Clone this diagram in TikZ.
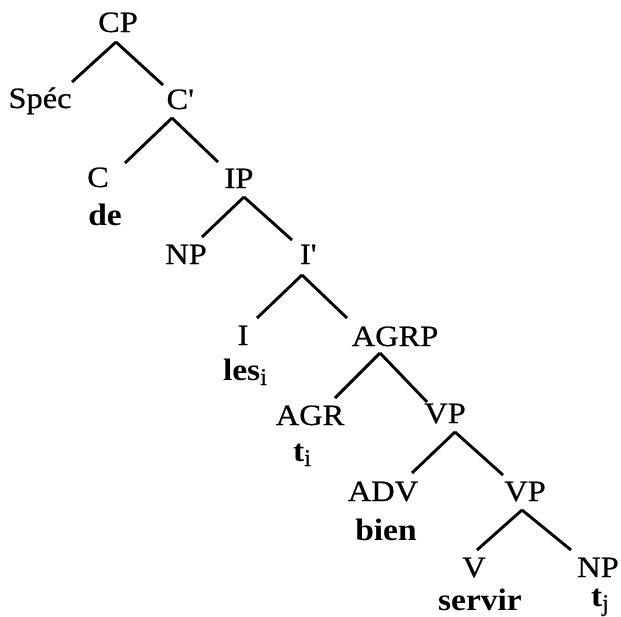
\documentclass[tikz,border=0pt]{standalone}
\usepackage{fontspec}
\setmainfont{Liberation Serif}
\newfontfamily\catfont[FakeStretch=1.1,FakeBold=0.6]{Liberation Serif}
\newfontfamily\wordfont[FakeStretch=1.08,UprightFont=*-Bold]{Liberation Serif}
\newfontfamily\subfont[FakeBold=0.8]{Liberation Serif}
\usetikzlibrary{calc}
\newcommand{\sbi}[1]{\raisebox{-5pt}{\subfont\fontsize{24}{24}\selectfont #1}}
\tikzset{
  cat/.style={anchor=base, inner sep=0pt, font=\catfont\fontsize{29.5}{32}\selectfont},
  word/.style={anchor=base, inner sep=0pt, font=\wordfont\fontsize{31}{32}\selectfont},
  branch/.style={line width=2.9pt, line cap=butt},
}
\begin{document}
\begin{tikzpicture}[x=1pt,y=-1pt]
\useasboundingbox (0,0) rectangle (621,616);
% categories
\node[cat] (CP)   at (118,32)  {CP};
\node[cat] (Spec) at (40,108)  {Spéc};
\node[cat] (Cb)   at (180,109) {C\textquotesingle};
\node[cat] (C)    at (98,187)  {C};
\node[word] (de)  at (105,225) {de};
\node[cat] (IP)   at (239,188) {IP};
\node[cat] (NP)   at (186,264) {NP};
\node[cat] (Ib)   at (308,264) {I\textquotesingle};
\node[cat] (I)    at (243,345) {I};
\node[word] (les) at (245,380) {les\sbi{i}};
\node[cat] (AGR)  at (310,425) {AGR};
\node[cat] (AGRP) at (395,346) {AGRP};
\node[word] (ti)  at (302,461) {t\sbi{i}};
\node[cat] (VP)   at (445,423) {VP};
\node[cat] (ADV)  at (383,501) {ADV};
\node[word] (bien) at (386,540) {bien};
\node[cat] (VPb)  at (525,501) {VP};
\node[cat] (V)    at (474,577) {V};
\node[word] (servir) at (480,610) {servir};
\node[cat] (NPb)  at (598,577) {NP};
\node[word] (tj)  at (600,606) {t\sbi{j}};
% branches
\draw[branch] ($(CP.base)+(-2,10)$) -- ($(Spec.base)+(32,-26)$);
\draw[branch] ($(CP.base)+(-2,10)$) -- ($(Cb.base)+(-17,-24)$);
\draw[branch] ($(Cb.base)+(-8,9)$) -- ($(C.base)+(27,-24)$);
\draw[branch] ($(Cb.base)+(-8,9)$) -- ($(IP.base)+(-21,-26)$);
\draw[branch] ($(IP.base)+(5,9)$) -- ($(NP.base)+(16,-27)$);
\draw[branch] ($(IP.base)+(5,9)$) -- ($(Ib.base)+(-16,-24)$);
\draw[branch] ($(Ib.base)+(-6,11)$) -- ($(I.base)+(14,-27)$);
\draw[branch] ($(Ib.base)+(-6,11)$) -- ($(AGRP.base)+(-48,-28)$);
\draw[branch] ($(AGRP.base)+(-15,7)$) -- ($(AGR.base)+(25,-27)$);
\draw[branch] ($(AGRP.base)+(-15,7)$) -- ($(VP.base)+(-18,-21)$);
\draw[branch] ($(VP.base)+(10,9)$) -- ($(ADV.base)+(29,-28)$);
\draw[branch] ($(VP.base)+(10,9)$) -- ($(VPb.base)+(-22,-26)$);
\draw[branch] ($(VPb.base)+(-3,9)$) -- ($(V.base)+(3,-27)$);
\draw[branch] ($(VPb.base)+(-3,9)$) -- ($(NPb.base)+(-27,-27)$);
\end{tikzpicture}
\end{document}
